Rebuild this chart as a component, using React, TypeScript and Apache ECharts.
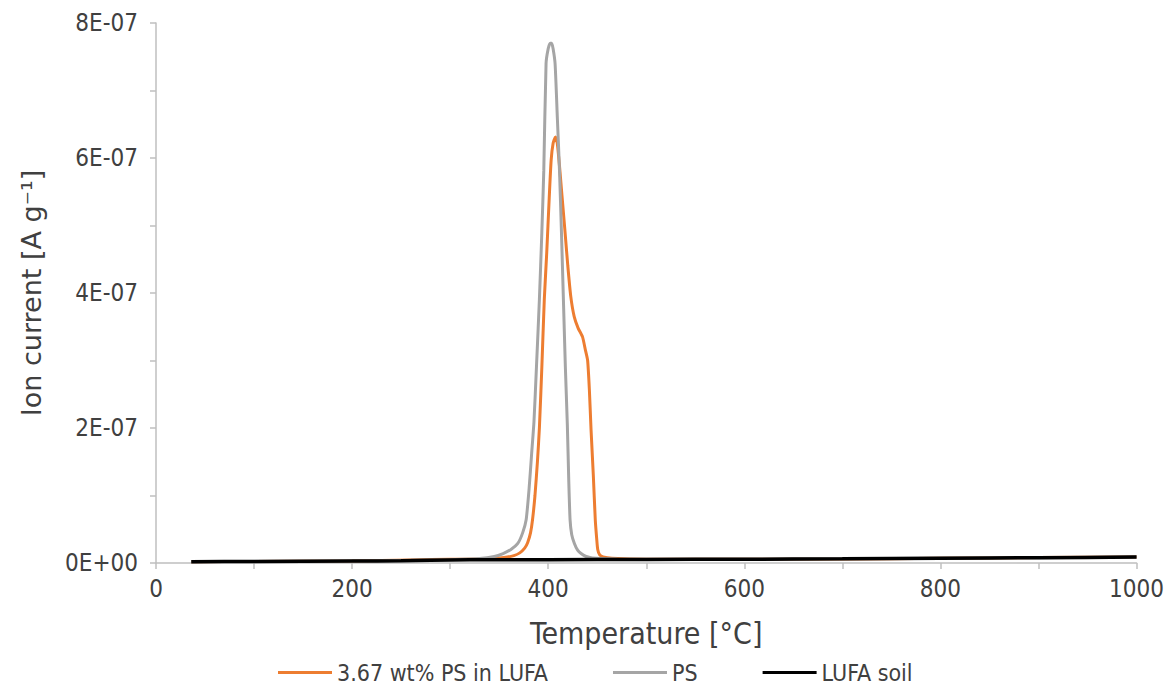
import React, { useEffect, useRef } from "react";
import * as echarts from "echarts";

// Temperature [°C] and ion current [A g^-1]
const orangeT = [36, 100, 200, 260, 300, 340, 355, 365, 371, 376, 379, 382, 384, 386.5, 389, 391, 393.5, 396, 398.5, 401, 403, 405, 407.3, 409.2, 411.4, 414, 417, 420, 423, 426.5, 430.5, 435, 438, 440.2, 442, 443.7, 446, 448, 449.5, 450.5, 452.5, 456, 465, 500, 600, 700, 800, 900, 1000];
const orangeV = [0.02, 0.022, 0.03, 0.045, 0.055, 0.062, 0.08, 0.11, 0.15, 0.22, 0.3, 0.45, 0.64, 1.0, 1.5, 2.0, 2.9, 3.9, 4.6, 5.4, 5.97, 6.22, 6.31, 6.22, 5.9, 5.45, 4.93, 4.4, 3.95, 3.65, 3.48, 3.35, 3.15, 3.0, 2.56, 1.97, 1.3, 0.64, 0.35, 0.2, 0.12, 0.09, 0.07, 0.055, 0.055, 0.06, 0.07, 0.08, 0.09];

const grayT = [36, 100, 200, 260, 300, 330, 345, 354, 362, 369, 374, 377.5, 380.5, 383, 385.5, 388, 391, 393.5, 395.5, 397.8, 400, 402, 403.5, 405, 407, 409.3, 411.5, 413.5, 415.5, 417.5, 419.5, 421, 422.3, 424, 426.7, 430, 433.5, 438, 445, 470, 500, 600, 800, 1000];
const grayV = [0.02, 0.022, 0.03, 0.04, 0.05, 0.065, 0.095, 0.14, 0.2, 0.29, 0.45, 0.64, 1.1, 1.6, 2.1, 2.9, 3.9, 4.9, 5.82, 7.4, 7.62, 7.7, 7.7, 7.62, 7.4, 6.6, 5.82, 4.9, 3.9, 2.9, 2.05, 1.2, 0.64, 0.42, 0.29, 0.19, 0.14, 0.1, 0.075, 0.06, 0.055, 0.055, 0.07, 0.09];

const blackT = [36, 100, 200, 250, 280, 320, 400, 500, 600, 700, 800, 900, 1000];
const blackV = [0.02, 0.022, 0.028, 0.032, 0.042, 0.048, 0.05, 0.052, 0.056, 0.062, 0.07, 0.078, 0.088];

const seriesNames = ["3.67 wt% PS in LUFA", "PS", "LUFA soil"];
const seriesColors = ["#ED7D31", "#A5A5A5", "#000000"];
const valueUnit = 1e-7;

const FONT = "'DejaVu Sans Condensed', 'DejaVu Sans', sans-serif";
const FONT_WIDE = "'DejaVu Sans', sans-serif";
const TEXT = "#404040";
const AXIS = "#BFBFBF";

function sci(v: number): string {
  if (Math.abs(v) < 1e-15) return "0E+00";
  const exp = Math.floor(Math.log10(Math.abs(v)) + 1e-9);
  const mant = Math.round(v / Math.pow(10, exp));
  const e = Math.abs(exp).toString().padStart(2, "0");
  return `${mant}E${exp < 0 ? "-" : "+"}${e}`;
}

function pairs(t: number[], v: number[]) {
  return t.map((x, i) => [x, v[i] * valueUnit]);
}

export default function App() {
  const ref = useRef<HTMLDivElement>(null);
  useEffect(() => {
    if (!ref.current) return;
    const chart = echarts.init(ref.current, undefined, { renderer: "svg" });
    const datasets = [pairs(orangeT, orangeV), pairs(grayT, grayV), pairs(blackT, blackV)];
    chart.setOption({
      animation: false,
      backgroundColor: "#ffffff",
      grid: { left: 156, right: 29, top: 23, bottom: 125, containLabel: false },
      xAxis: {
        type: "value",
        min: 0,
        max: 1000,
        interval: 100,
        name: "Temperature [°C]",
        nameLocation: "middle",
        nameGap: 55,
        nameTextStyle: { fontFamily: FONT, fontSize: 30, color: TEXT },
        axisLine: { show: true, lineStyle: { color: AXIS, width: 1.5 } },
        axisTick: { show: true, inside: false, length: 6, lineStyle: { color: AXIS, width: 1.5 } },
        splitLine: { show: false },
        axisLabel: {
          margin: 14,
          fontFamily: FONT,
          fontSize: 24,
          color: TEXT,
          formatter: (v: number) => (Math.round(v) % 200 === 0 ? String(Math.round(v)) : ""),
        },
      },
      yAxis: {
        type: "value",
        min: 0,
        max: 8e-7,
        interval: 1e-7,
        name: "Ion current [A g⁻¹]",
        nameLocation: "middle",
        nameGap: 111,
        nameTextStyle: { fontFamily: FONT_WIDE, fontSize: 27, color: TEXT },
        axisLine: { show: true, lineStyle: { color: AXIS, width: 1.5 } },
        axisTick: { show: true, inside: false, length: 6, lineStyle: { color: AXIS, width: 1.5 } },
        splitLine: { show: false },
        axisLabel: {
          margin: 18,
          fontFamily: FONT,
          fontSize: 24,
          color: TEXT,
          formatter: (v: number) => {
            const k = Math.round(v / 1e-7);
            return k % 2 === 0 ? sci(k * 1e-7) : "";
          },
        },
      },
      legend: {
        data: seriesNames,
        left: 273,
        top: 656,
        icon: "rect",
        itemWidth: 54,
        itemHeight: 3,
        itemGap: 65,
        textStyle: { fontFamily: FONT, fontSize: 23, color: TEXT },
      },
      series: seriesNames.map((name, i) => ({
        name,
        type: "line",
        data: datasets[i],
        showSymbol: false,
        symbol: "none",
        smooth: 0.2,
        color: seriesColors[i],
        lineStyle: { color: seriesColors[i], width: i === 2 ? 3.5 : 3 },
        z: 2 + i,
      })),
    });
    return () => chart.dispose();
  }, []);
  return (
    <div
      ref={ref}
      style={{ position: "fixed", left: 0, top: 0, width: 1167, height: 688 }}
    />
  );
}
